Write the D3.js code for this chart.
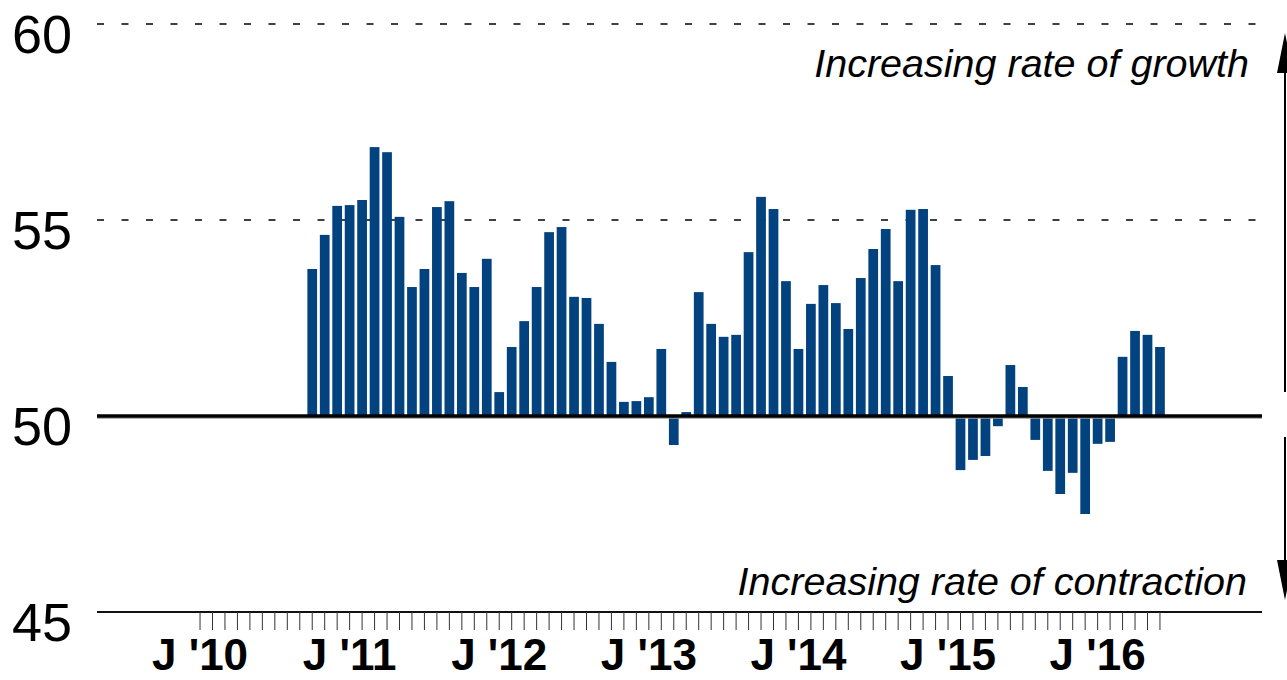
<!DOCTYPE html>
<html>
<head>
<meta charset="utf-8">
<script src="https://cdn.jsdelivr.net/npm/d3@7"></script>
<style>
  body { margin: 0; background: #fff; }
  text { font-family: "Liberation Sans", Arial, sans-serif; }
</style>
</head>
<body>
<script>
// monthly index readings, Oct 2010 - Jun 2016
const months = [
  "2010-10","2010-11","2010-12",
  "2011-01","2011-02","2011-03","2011-04","2011-05","2011-06","2011-07","2011-08","2011-09","2011-10","2011-11","2011-12",
  "2012-01","2012-02","2012-03","2012-04","2012-05","2012-06","2012-07","2012-08","2012-09","2012-10","2012-11","2012-12",
  "2013-01","2013-02","2013-03","2013-04","2013-05","2013-06","2013-07","2013-08","2013-09","2013-10","2013-11","2013-12",
  "2014-01","2014-02","2014-03","2014-04","2014-05","2014-06","2014-07","2014-08","2014-09","2014-10","2014-11","2014-12",
  "2015-01","2015-02","2015-03","2015-04","2015-05","2015-06","2015-07","2015-08","2015-09","2015-10","2015-11","2015-12",
  "2016-01","2016-02","2016-03","2016-04","2016-05","2016-06"
];
const values = [
  53.75, 54.62, 55.36,
  55.38, 55.51, 56.86, 56.73, 55.08, 53.29, 53.75, 55.33, 55.48, 53.65, 53.29, 54.01,
  50.61, 51.76, 52.42, 53.29, 54.69, 54.82, 53.04, 53.01, 52.35, 51.38, 50.36, 50.38,
  50.48, 51.71, 49.26, 50.10, 53.16, 52.35, 52.02, 52.07, 54.18, 55.59, 55.28, 53.44,
  51.71, 52.86, 53.34, 52.88, 52.22, 53.52, 54.26, 54.77, 53.44, 55.26, 55.28, 53.85,
  51.02, 48.62, 48.88, 48.98, 49.74, 51.30, 50.74, 49.39, 48.60, 48.01, 48.55, 47.50,
  49.29, 49.34, 51.51, 52.17, 52.07, 51.76
];
const yTicks = [45, 50, 55, 60];
const yearTicks = ["2010-01","2011-01","2012-01","2013-01","2014-01","2015-01","2016-01"];
const yearLabels = ["J '10","J '11","J '12","J '13","J '14","J '15","J '16"];
const upLabel = "Increasing rate of growth";
const downLabel = "Increasing rate of contraction";

const W = 1287, H = 680;
const left = 97, right = 1262;
const barColor = "#02427f";

const svg = d3.select("body").append("svg")
  .attr("width", W)
  .attr("height", H)
  .attr("viewBox", `0 0 ${W} ${H}`);

// month slots on the axis: Jan 2010 .. Jun 2016
const fmt = d3.timeFormat("%Y-%m");
const axisMonths = d3.timeMonth.range(new Date(2010, 0, 1), new Date(2016, 6, 1)).map(fmt);

const x = d3.scaleBand()
  .domain(axisMonths)
  .range([193.8, 1166.2])
  .paddingInner(0.22)
  .paddingOuter(0.11);

const y = d3.scaleLinear()
  .domain([45, 60])
  .range([612, 24]);

// dashed grid at 55 and 60
svg.append("g")
  .selectAll("line")
  .data(yTicks.filter(d => d > 50))
  .join("line")
  .attr("x1", left).attr("x2", 1258)
  .attr("y1", d => y(d)).attr("y2", d => y(d))
  .attr("stroke", "#000")
  .attr("stroke-width", 1.3)
  .attr("stroke-dasharray", "7,17.5");

// bars from the 50 line
svg.append("g")
  .selectAll("rect")
  .data(values)
  .join("rect")
  .attr("x", (d, i) => x(months[i]))
  .attr("width", x.bandwidth())
  .attr("y", d => y(Math.max(d, 50)))
  .attr("height", d => Math.abs(y(d) - y(50)))
  .attr("fill", barColor);

// 50 line
svg.append("line")
  .attr("x1", left).attr("x2", right)
  .attr("y1", y(50) + 2).attr("y2", y(50) + 2)
  .attr("stroke", "#999").attr("stroke-width", 1.5);
svg.append("line")
  .attr("x1", left).attr("x2", right)
  .attr("y1", y(50)).attr("y2", y(50))
  .attr("stroke", "#000").attr("stroke-width", 3.5);

// 45 line
svg.append("line")
  .attr("x1", left).attr("x2", right)
  .attr("y1", y(45)).attr("y2", y(45))
  .attr("stroke", "#111").attr("stroke-width", 2);

// month ticks
const xAxis = svg.append("g")
  .attr("transform", `translate(0,${y(45)})`)
  .call(d3.axisBottom(x).tickSize(18).tickFormat(""));
xAxis.select(".domain").remove();
xAxis.selectAll(".tick line").attr("stroke", "#333").attr("stroke-width", 1);

// year labels
svg.append("g")
  .selectAll("text")
  .data(yearTicks)
  .join("text")
  .attr("x", d => x(d) + x.bandwidth() / 2)
  .attr("y", 670)
  .attr("text-anchor", "middle")
  .attr("font-size", 44)
  .attr("font-weight", "bold")
  .attr("fill", "#000")
  .text((d, i) => yearLabels[i]);

// y axis labels
const yAxis = svg.append("g")
  .attr("transform", "translate(72,0)")
  .call(d3.axisLeft(y).tickValues(yTicks).tickSize(0).tickPadding(0));
yAxis.select(".domain").remove();
yAxis.selectAll("text")
  .attr("font-size", 54)
  .attr("font-family", "Liberation Sans, Arial, sans-serif")
  .attr("fill", "#000")
  .attr("dy", "0.52em");

// annotations
svg.append("text")
  .attr("x", 1249).attr("y", 77)
  .attr("text-anchor", "end")
  .attr("font-size", 39.5)
  .attr("font-style", "italic")
  .attr("fill", "#000")
  .text(upLabel);
svg.append("text")
  .attr("x", 1247).attr("y", 595)
  .attr("text-anchor", "end")
  .attr("font-size", 39.5)
  .attr("font-style", "italic")
  .attr("fill", "#000")
  .text(downLabel);

// arrows on the right edge
const ax = 1285;
svg.append("line")
  .attr("x1", ax).attr("x2", ax).attr("y1", 70).attr("y2", 392)
  .attr("stroke", "#000").attr("stroke-width", 2);
svg.append("path")
  .attr("d", `M${ax},33L${ax - 8},73L${ax + 8},73Z`)
  .attr("fill", "#000");
svg.append("line")
  .attr("x1", ax).attr("x2", ax).attr("y1", 437).attr("y2", 563)
  .attr("stroke", "#000").attr("stroke-width", 2);
svg.append("path")
  .attr("d", `M${ax},600L${ax - 8},560L${ax + 8},560Z`)
  .attr("fill", "#000");
</script>
</body>
</html>
